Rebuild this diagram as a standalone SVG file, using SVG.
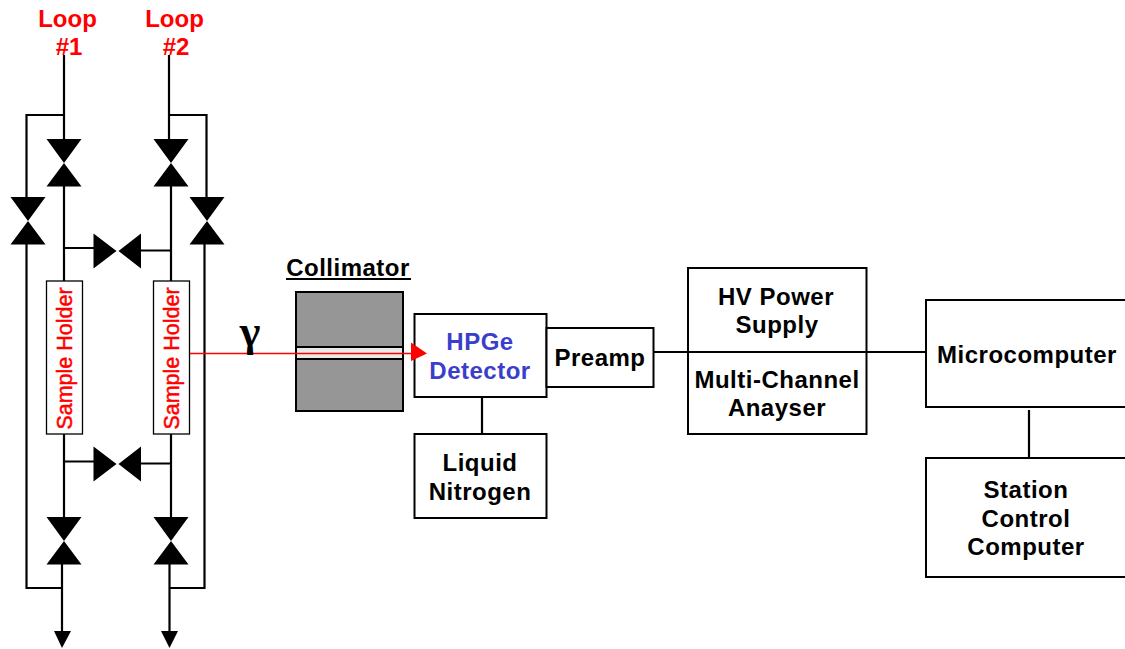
<svg xmlns="http://www.w3.org/2000/svg" width="1125" height="649" viewBox="0 0 1125 649">
<style>
text{font-family:"Liberation Sans",Arial,sans-serif;font-weight:700;text-anchor:middle;font-size:24px;letter-spacing:.5px;fill:#000}
.r{fill:#f00;letter-spacing:0}
.b{fill:#3a3ecb}
.box{fill:#fff;stroke:#000;stroke-width:2}
.sh{fill:#fff;stroke:#000;stroke-width:1.3}
.ln{fill:none;stroke:#000;stroke-width:2.2}
.v{fill:#000}
.sl{font-size:21.500px;font-weight:400;stroke:#f00;stroke-width:.5}
</style>
<defs>
<g id="vv"><path class="v" d="M-17.500 -24 H17.500 L0 0ZM-17.500 23.500 H17.500 L0 0Z"/></g>
<g id="vh"><path class="v" d="M-24 -17.500 V17.500 L-1 0ZM23.500 -17.500 V17.500 L1 0Z"/></g>
</defs>
<g id="connectors">
<path class="ln" d="M64 55V140M169 55V140M63 115H26.500V200M170 115H206.500V200M64 185V281M171 185V281M64 248H95M171 250.500H140M26.500 243V588H62M204.500 243V588H169M64 434V520M171 434V520M64 461.500H95M171 463.500H140M62 563V634M169.500 563V634"/>
<path class="v" d="M54 631H71L62 648ZM161 631H178L169.500 648Z"/>
<path class="ln" d="M482 397V434M653 352H688M867 352H926M1029 410V458M688 352H867"/>
</g>
<g id="valves">
<use href="#vv" x="64" y="163"/><use href="#vv" x="171" y="163"/>
<use href="#vv" x="28" y="221"/><use href="#vv" x="207" y="221"/>
<use href="#vh" x="117.500" y="251"/><use href="#vh" x="117.500" y="464"/>
<use href="#vv" x="64" y="541"/><use href="#vv" x="171" y="541"/>
</g>
<g id="loop1"><text class="r" x="67.500" y="27">Loop</text><text class="r" x="69" y="55">#1</text></g>
<g id="loop2"><text class="r" x="174.500" y="27">Loop</text><text class="r" x="176" y="55">#2</text></g>
<g id="holder1"><rect class="sh" x="46.500" y="281" width="36" height="153"/><text class="r sl" transform="translate(72,358.500) rotate(-90)">Sample Holder</text></g>
<g id="holder2"><rect class="sh" x="153.500" y="281" width="36" height="153"/><text class="r sl" transform="translate(179,358.500) rotate(-90)">Sample Holder</text></g>
<g id="collimator">
<text x="348" y="276">Collimator</text><path d="M286 279H411" stroke="#000" stroke-width="2"/>
<rect x="296" y="292" width="107" height="119" fill="#969696" stroke="#000" stroke-width="2"/>
<rect x="296" y="347" width="107" height="12" fill="#e8e8e8" stroke="#000" stroke-width="2"/>
</g>
<g id="detector"><rect class="box" x="414.500" y="314" width="132" height="83"/><text class="b" x="480" y="350">HPGe</text><text class="b" x="480" y="379">Detector</text></g>
<g id="gamma">
<path d="M190 353.500H416" stroke="#f00" stroke-width="1.300"/><path d="M411 342.500L427 353.500L411 361Z" fill="#f00"/>
<text x="250" y="346" style="font-family:'Liberation Serif',serif;font-size:44px;font-weight:700;letter-spacing:0">γ</text>
</g>
<g id="preamp"><rect class="box" x="546.500" y="328" width="107" height="59"/><text x="600" y="366">Preamp</text></g>
<g id="nitrogen"><rect class="box" x="414.500" y="434" width="132" height="84"/><text x="480" y="471">Liquid</text><text x="480" y="500">Nitrogen</text></g>
<g id="hv"><rect class="box" x="688" y="268" width="178.500" height="166" fill="none"/><path d="M688 352H867" stroke="#000" stroke-width="2"/>
<text x="776" y="305">HV Power</text><text x="777" y="333">Supply</text><text x="777" y="388">Multi-Channel</text><text x="777" y="416">Anayser</text></g>
<g id="micro"><rect class="box" x="926" y="300" width="210" height="107"/><text x="1027" y="363">Microcomputer</text></g>
<g id="station"><rect class="box" x="926" y="458" width="210" height="119"/><text x="1026" y="498">Station</text><text x="1026" y="527">Control</text><text x="1026" y="555">Computer</text></g>
</svg>
